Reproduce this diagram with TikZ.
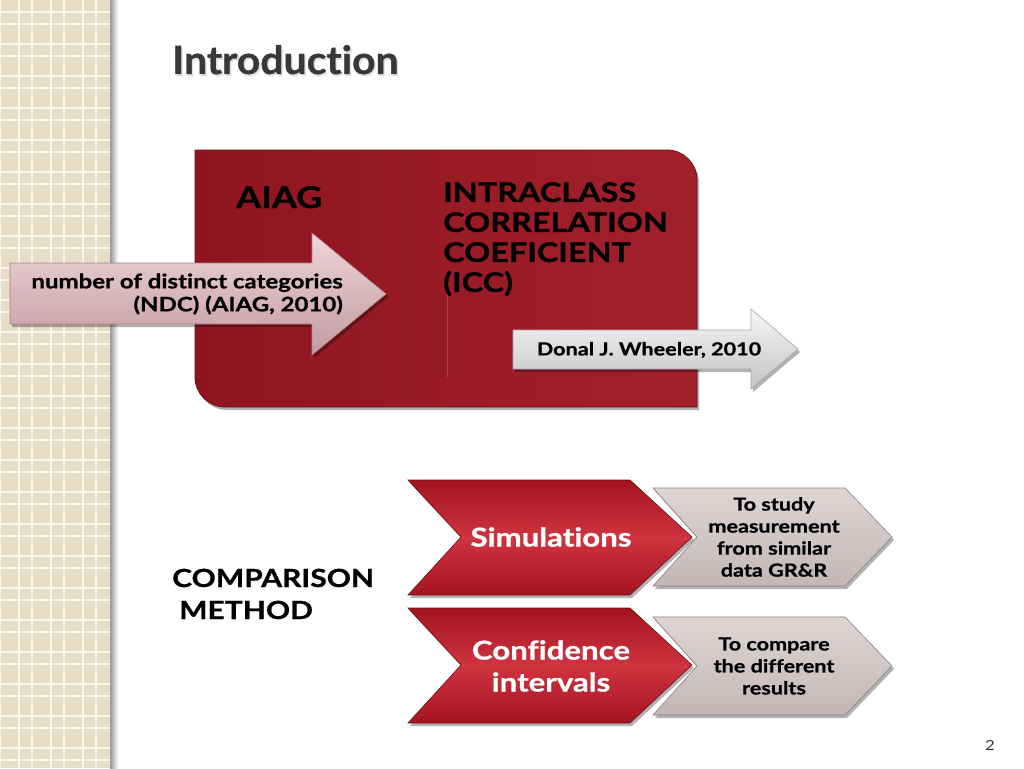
\documentclass[tikz,border=0pt]{standalone}
\usepackage{fontspec}
\setmainfont{Lato}[FakeStretch=1.2, Ligatures=NoCommon, BoldFeatures={FakeBold=0.8}]
\newfontfamily\titlefont{Lato}[FakeStretch=1.05, Ligatures=NoCommon, BoldFeatures={FakeBold=0.8}]
\usetikzlibrary{shadows,calc}
\definecolor{stripbg}{HTML}{E6DDC4}
\definecolor{stripline}{HTML}{FAF6EC}
\definecolor{titlec}{HTML}{383838}
\definecolor{redA}{HTML}{8E1520}
\definecolor{redB}{HTML}{B5323D}
\definecolor{redC}{HTML}{A2202B}
\definecolor{rededge}{HTML}{6E0E16}
\definecolor{pinkA}{HTML}{EDD5D8}
\definecolor{pinkB}{HTML}{C49AA1}
\definecolor{pinkedge}{HTML}{A9838A}
\definecolor{greyA}{HTML}{F6F6F6}
\definecolor{greyB}{HTML}{C4C4C4}
\definecolor{greyedge}{HTML}{A8A8A8}
\definecolor{chevA}{HTML}{CF3440}
\definecolor{chevB}{HTML}{A3141F}
\definecolor{gchevA}{HTML}{DED5D5}
\definecolor{gchevB}{HTML}{C4B6B6}
\definecolor{gchevedge}{HTML}{8E8080}
\newcommand{\fs}[2]{\fontsize{#1}{#2}\selectfont}
\tikzset{
  softshadow/.style={drop shadow={shadow xshift=2pt, shadow yshift=-3pt, opacity=0.3, fill=black}},
  redbox/.style={left color=redA, middle color=redB, right color=redC, draw=rededge, line width=0.8pt, softshadow},
  pinkarrow/.style={top color=pinkA, bottom color=pinkB, draw=pinkedge, line width=0.6pt, softshadow},
  greyarrow/.style={top color=greyA, bottom color=greyB, draw=greyedge, line width=0.6pt, softshadow},
  redchev/.style={top color=chevB, bottom color=chevB, middle color=chevA, draw=rededge, line width=0.6pt, softshadow},
  greychev/.style={top color=gchevA, bottom color=gchevB, draw=gchevedge, line width=0.6pt, softshadow},
  txt/.style={inner sep=0pt, font=\bfseries},
}
\begin{document}
\begin{tikzpicture}[x=1pt,y=-1pt]
\useasboundingbox (0,0) rectangle (1024,768);
\fill[white] (0,0) rectangle (1024,768);
% left strip
\fill[stripbg] (0,0) rectangle (112,768);
\foreach \k in {0,...,24} {
  \draw[stripline, line width=1.4pt] (0,32*\k+12) -- (112,32*\k+12);
  \draw[stripline, line width=1.4pt] (0,32*\k+24) -- (112,32*\k+24);
}
\foreach \xx in {0,19,32,51,64,83,96} {
  \draw[stripline, line width=1.4pt] (\xx,0) -- (\xx,768);
}
\shade[left color=black!40, right color=white] (110,0) rectangle (118,768);
% title
\node[txt, anchor=base west, text=black!12, font=\titlefont\bfseries\fs{39}{44}] (titleshadow) at (173.5,76) {Introduction};
\node[txt, anchor=base west, text=titlec, font=\titlefont\bfseries\fs{39}{44}] (title) at (172,74) {Introduction};
% red box
\path[redbox] (195,150) -- (667,150) .. controls (683.6,150) and (697,163.4) .. (697,180)
   -- (697,407) -- (225,407) .. controls (208.4,407) and (195,393.6) .. (195,377) -- cycle;
\draw[redB!70!white, opacity=0.5, line width=1pt] (447,287) -- (447,377);
\node[txt, anchor=base west, font=\bfseries\fs{30}{30}] (aiag) at (236,208) {AIAG};
\node[txt, anchor=north west, align=left, font=\bfseries\fs{27}{30}] (icc) at (443,182)
  {INTRACLASS\\CORRELATION\\COEFICIENT\\(ICC)};
% left arrow
\path[pinkarrow] (10,263) -- (312,263) -- (312,233) -- (386,294) -- (312,355) -- (312,324) -- (10,324) -- cycle;
\node[txt, anchor=east, align=right, font=\bfseries\fs{20}{23}] (ndc) at (343,294)
  {number of distinct categories\\(NDC) (AIAG, 2010)};
% right arrow
\path[greyarrow] (513,330) -- (751,330) -- (751,309) -- (798,349) -- (751,389) -- (751,369) -- (513,369) -- cycle;
\node[txt, font=\bfseries\fs{18}{20}] (wheeler) at (649,350) {Donal J. Wheeler, 2010};
% comparison method
\node[txt, anchor=base west, align=left, font=\bfseries\fs{25}{33}] (cmp) at (172,587) {COMPARISON};
\node[txt, anchor=base west, align=left, font=\bfseries\fs{25}{33}] (meth) at (179,619) {METHOD};
% grey chevrons
\path[greychev] (653,488) -- (845,488) -- (892,537) -- (845,586) -- (653,586) -- (697,537) -- cycle;
\path[greychev] (653,617) -- (845,617) -- (892,666) -- (845,715) -- (653,715) -- (697,666) -- cycle;
% red chevrons
\path[redchev] (408,480) -- (630,480) -- (692,537) -- (630,595) -- (408,595) -- (461,537) -- cycle;
\path[redchev] (408,608) -- (630,608) -- (692,665) -- (630,723) -- (408,723) -- (461,665) -- cycle;
\node[txt, text=white, font=\bfseries\fs{26}{32}] (sim) at (551,537) {Simulations};
\node[txt, text=white, align=center, font=\bfseries\fs{26}{32}] (conf) at (551,666) {Confidence\\intervals};
\node[txt, align=center, font=\bfseries\fs{18}{22}] (study) at (774,537)
  {To study\\measurement\\from similar\\data GR\&R};
\node[txt, align=center, font=\bfseries\fs{18}{22}] (compare) at (774,666)
  {To compare\\the different\\results};
% page number
\node[txt, text=titlec, font=\fs{14}{16}] (pg) at (990,745) {2};
\end{tikzpicture}
\end{document}
